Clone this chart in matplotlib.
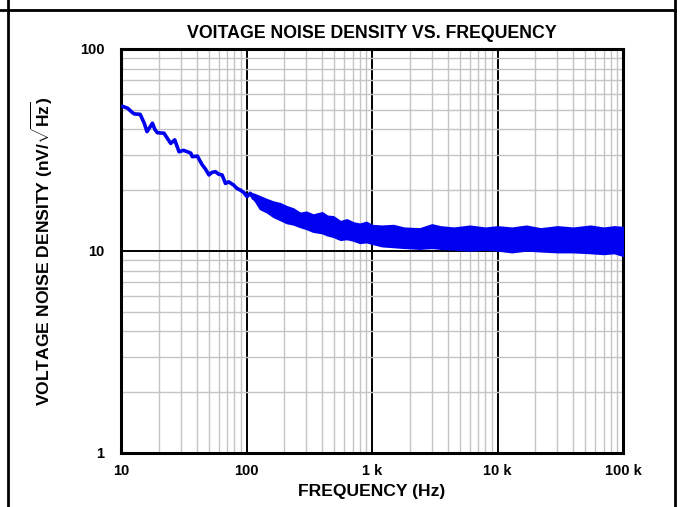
import matplotlib
matplotlib.use("Agg")
import matplotlib.pyplot as plt
from matplotlib.lines import Line2D
from matplotlib.ticker import FixedLocator, FixedFormatter, LogLocator, NullFormatter

plt.rcParams['font.family'] = ['Liberation Sans', 'DejaVu Sans']
plt.rcParams['font.weight'] = 'bold'
plt.rcParams['mathtext.fontset'] = 'custom'
plt.rcParams['mathtext.rm'] = 'Liberation Sans:bold'
plt.rcParams['mathtext.it'] = 'Liberation Sans:bold'
plt.rcParams['mathtext.bf'] = 'Liberation Sans:bold'

# low frequency trace (single line)
trace_f = [10.3, 11.3, 12.3, 12.8, 14.2, 15.3, 16.1, 17.0, 17.8, 18.6, 19.5, 22,
           23.5, 24.9, 26.8, 29, 31.5, 33.8, 36, 37, 40.6, 42.5, 44.4, 47, 50.2,
           53, 56.6, 60, 63.9, 68, 72, 79, 84, 89.6, 95, 101, 107, 114]
trace_v = [52, 50.9, 48.5, 47.7, 47.5, 43, 39, 41, 42.9, 40, 38.5, 38.3,
           36, 34.1, 35.5, 31, 31.5, 31, 30.5, 29.3, 29.5, 28, 26.7, 25.5, 23.8,
           24.5, 24.7, 24.0, 23.8, 21.6, 22.0, 21.2, 20.4, 20.0, 19.5, 18.6, 19.3, 18.2]

# noise band envelope above ~100 Hz (upper / lower edge)
band_f = [107, 118, 128, 145, 164, 185, 209, 235, 267, 300, 340, 400, 440, 491,
          560, 630, 710, 800, 900, 1000, 1200, 1480, 1800, 2400, 3000, 3500, 4500,
          6000, 8000, 10000, 13000, 17000, 22000, 30000, 40000, 55000, 70000,
          85000, 100000]
band_hi = [19.4, 19.0, 18.6, 18.0, 17.5, 17.2, 16.6, 16.2, 15.4, 15.6, 15.1, 15.5,
           14.9, 14.8, 14.0, 14.3, 13.8, 13.6, 13.9, 13.4, 13.3, 13.4, 13.0, 12.9,
           13.5, 13.2, 13.0, 13.3, 13.0, 13.2, 13.0, 13.3, 12.9, 13.2, 13.0, 13.3,
           13.0, 13.2, 13.1]
band_lo = [19.0, 17.6, 16.2, 15.6, 14.8, 14.3, 13.8, 13.6, 13.2, 12.9, 12.5, 12.3,
           12.0, 11.8, 11.4, 11.5, 11.3, 11.0, 11.1, 10.9, 10.6, 10.5, 10.4, 10.3,
           10.4, 10.3, 10.2, 10.1, 10.2, 10.1, 9.9, 10.1, 10.0, 9.9, 9.9, 9.8,
           9.7, 9.8, 9.5]

xticks = [10, 100, 1000, 10000, 100000]
xlabels = ['10', '100', '1 k', '10 k', '100 k']
yticks = [1, 10, 100]
ylabels = ['1', '10', '100']

fig = plt.figure(figsize=(6.82, 5.07), dpi=100)
ax = fig.add_axes([121 / 682, (507 - 453) / 507, 502 / 682, 404 / 507])

ax.set_xscale('log')
ax.set_yscale('log')
ax.set_xlim(10, 100000)
ax.set_ylim(1, 100)

ax.xaxis.set_major_locator(FixedLocator(xticks))
ax.xaxis.set_major_formatter(FixedFormatter(xlabels))
ax.yaxis.set_major_locator(FixedLocator(yticks))
ax.yaxis.set_major_formatter(FixedFormatter(ylabels))
ax.xaxis.set_minor_locator(LogLocator(base=10, subs=range(2, 10)))
ax.yaxis.set_minor_locator(LogLocator(base=10, subs=range(2, 10)))
ax.xaxis.set_minor_formatter(NullFormatter())
ax.yaxis.set_minor_formatter(NullFormatter())

ax.grid(which='minor', color='#c4c4c4', linewidth=1.0)
ax.grid(which='major', color='black', linewidth=1.4)
ax.set_axisbelow(True)
ax.tick_params(which='both', length=0, labelsize=10.5)
ax.tick_params(axis='x', pad=8)
ax.tick_params(axis='y', pad=12)
for lbl in ax.get_xticklabels() + ax.get_yticklabels():
    lbl.set_fontweight('bold')
for sp in ax.spines.values():
    sp.set_linewidth(2.2)

blue = '#0000f0'
ax.plot(trace_f, trace_v, color=blue, linewidth=2.6, solid_joinstyle='round',
        solid_capstyle='round', zorder=3)
ax.fill_between(band_f, band_lo, band_hi, color=blue, linewidth=1.5, edgecolor=blue, zorder=3)

ax.set_title('VOITAGE NOISE DENSITY VS. FREQUENCY', fontsize=12.8, fontweight='bold', pad=8)
ax.set_xlabel('FREQUENCY (Hz)', fontsize=12.6, fontweight='bold', labelpad=4)
ax.set_ylabel(r'VOLTAGE NOISE DENSITY (nV/$\sqrt{\mathrm{Hz}}$)', fontsize=12.6,
              fontweight='bold', labelpad=18)

# outer table frame
fig.add_artist(Line2D([7.5 / 682, 7.5 / 682], [0, 1], color='black', linewidth=2, transform=fig.transFigure))
fig.add_artist(Line2D([674.5 / 682, 674.5 / 682], [0, 1], color='black', linewidth=2, transform=fig.transFigure))
fig.add_artist(Line2D([0, 675 / 682], [1 - 10 / 507, 1 - 10 / 507], color='black', linewidth=2, transform=fig.transFigure))

fig.savefig('out.png', dpi=100)
